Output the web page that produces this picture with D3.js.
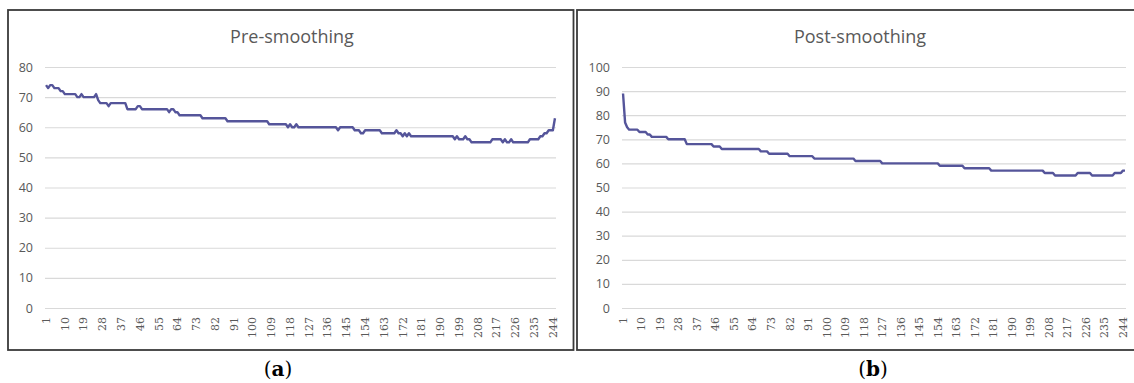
<!DOCTYPE html>
<html><head><meta charset="utf-8">
<script src="https://cdn.jsdelivr.net/npm/d3@7"></script>
<style>body{margin:0;background:#fff} svg{display:block}</style>
</head><body><svg id="c" width="1134" height="383"></svg>
<script>
// Categories: sample numbers 1..245
const categories = d3.range(1, 246);
const xTickLabels = ["1","10","19","28","37","46","55","64","73","82","91","100","109","118","127","136","145","154","163","172","181","190","199","208","217","226","235","244"];
const preYTicks = [0,10,20,30,40,50,60,70,80];
const postYTicks = [0,10,20,30,40,50,60,70,80,90,100];

const preValues = [
74,73,74,74,73,73,73,72,72,71,
71,71,71,71,71,70,70,71,70,70,
70,70,70,70,71,69,68,68,68,68,
67,68,68,68,68,68,68,68,68,66,
66,66,66,66,67,67,66,66,66,66,
66,66,66,66,66,66,66,66,66,65,
66,66,65,65,64,64,64,64,64,64,
64,64,64,64,64,63,63,63,63,63,
63,63,63,63,63,63,63,62,62,62,
62,62,62,62,62,62,62,62,62,62,
62,62,62,62,62,62,62,61,61,61,
61,61,61,61,61,61,60,61,60,60,
61,60,60,60,60,60,60,60,60,60,
60,60,60,60,60,60,60,60,60,60,
59,60,60,60,60,60,60,60,59,59,
59,58,58,59,59,59,59,59,59,59,
59,58,58,58,58,58,58,58,59,58,
58,57,58,57,58,57,57,57,57,57,
57,57,57,57,57,57,57,57,57,57,
57,57,57,57,57,57,56,57,56,56,
56,57,56,56,55,55,55,55,55,55,
55,55,55,55,56,56,56,56,56,55,
56,55,55,56,55,55,55,55,55,55,
55,55,56,56,56,56,56,57,57,58,
58,59,59,59,63
];

const postValues = [
89,77,75,74,74,74,74,74,73,73,
73,73,72,72,71,71,71,71,71,71,
71,71,70,70,70,70,70,70,70,70,
70,68,68,68,68,68,68,68,68,68,
68,68,68,68,67,67,67,67,66,66,
66,66,66,66,66,66,66,66,66,66,
66,66,66,66,66,66,66,65,65,65,
65,64,64,64,64,64,64,64,64,64,
64,63,63,63,63,63,63,63,63,63,
63,63,63,62,62,62,62,62,62,62,
62,62,62,62,62,62,62,62,62,62,
62,62,62,61,61,61,61,61,61,61,
61,61,61,61,61,61,60,60,60,60,
60,60,60,60,60,60,60,60,60,60,
60,60,60,60,60,60,60,60,60,60,
60,60,60,60,59,59,59,59,59,59,
59,59,59,59,59,59,58,58,58,58,
58,58,58,58,58,58,58,58,58,57,
57,57,57,57,57,57,57,57,57,57,
57,57,57,57,57,57,57,57,57,57,
57,57,57,57,57,56,56,56,56,56,
55,55,55,55,55,55,55,55,55,55,
55,56,56,56,56,56,56,56,55,55,
55,55,55,55,55,55,55,55,55,56,
56,56,56,57,57
];

const svg = d3.select("#c");
const GRID = "#d9d9d9", TXT = "#595959", LINE = "#55559a";

const panels = [
  {title:"Pre-smoothing", caption:"a", values:preValues, yTicks:preYTicks, yMax:80,
   frame:[8,10,573.5,350], plot:[45,556], top:67, bottom:308, titleX:292, capX:278},
  {title:"Post-smoothing", caption:"b", values:postValues, yTicks:postYTicks, yMax:100,
   frame:[577,10,1142,350], plot:[622,1126], top:67, bottom:308, titleX:860, capX:873}
];

panels.forEach(p => {
  const g = svg.append("g");
  g.append("rect")
    .attr("x", p.frame[0]).attr("y", p.frame[1])
    .attr("width", p.frame[2]-p.frame[0]).attr("height", p.frame[3]-p.frame[1])
    .attr("fill", "#fff").attr("stroke", "#3a3a3a").attr("stroke-width", 1.8);

  const x = d3.scaleBand().domain(categories).range(p.plot).padding(0);
  const y = d3.scaleLinear().domain([0, p.yMax]).range([p.bottom, p.top]);

  const yAxis = d3.axisLeft(y).tickValues(p.yTicks)
    .tickSize(-(p.plot[1]-p.plot[0])).tickPadding(12).tickFormat(d3.format("d"));
  const ya = g.append("g").attr("transform", `translate(${p.plot[0]},0)`).call(yAxis);
  ya.select(".domain").remove();
  ya.selectAll(".tick line").attr("stroke", GRID).attr("stroke-width", 1.2);
  ya.selectAll(".tick text").attr("fill", TXT)
    .style("font-family", "'Open Sans', sans-serif").style("font-size", "12.5px");

  const xAxis = d3.axisBottom(x).tickValues(xTickLabels.map(Number))
    .tickSize(0).tickPadding(0).tickFormat(d => String(d));
  const xa = g.append("g").attr("transform", `translate(0,${p.bottom})`).call(xAxis);
  xa.select(".domain").remove();
  xa.selectAll(".tick text")
    .attr("fill", TXT)
    .style("font-family", "'DejaVu Serif', serif").style("font-size", "11px")
    .attr("text-anchor", "end")
    .attr("transform", "rotate(-90)")
    .attr("x", -9).attr("y", 0).attr("dy", "0.35em");

  const line = d3.line()
    .x((d, i) => x(categories[i]) + x.bandwidth()/2)
    .y(d => y(d));
  g.append("path").datum(p.values)
    .attr("fill", "none").attr("stroke", LINE).attr("stroke-width", 2.4)
    .attr("stroke-linejoin", "round").attr("d", line);

  g.append("text").attr("x", p.titleX).attr("y", 43).attr("text-anchor", "middle")
    .attr("fill", TXT).style("font-family", "'Open Sans', sans-serif").style("font-size", "18px")
    .text(p.title);

  const cap = svg.append("text").attr("x", p.capX).attr("y", 376).attr("text-anchor", "middle")
    .attr("fill", "#000").style("font-family", "'DejaVu Serif', serif").style("font-size", "20px");
  cap.append("tspan").text("(");
  cap.append("tspan").attr("font-weight", "bold").text(p.caption);
  cap.append("tspan").text(")");
});
</script>
</body></html>
